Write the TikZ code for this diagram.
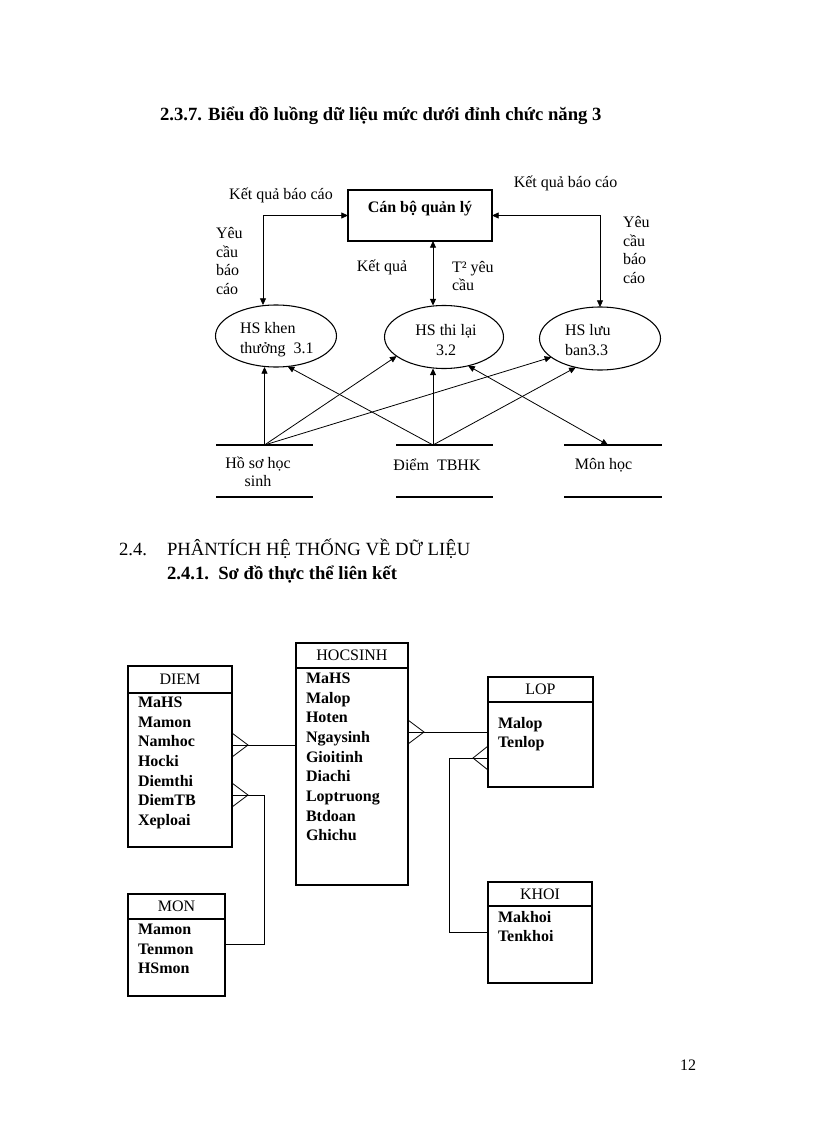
\documentclass[tikz,border=0pt]{standalone}
\usepackage{fontspec}
\setmainfont{Liberation Serif}
\usetikzlibrary{arrows.meta,shapes.geometric,positioning,calc}

\begin{document}
\begin{tikzpicture}[
  x=0.75pt,
  y=-0.75pt,
  every node/.style={font=\fontsize{12}{14}\selectfont, inner sep=0pt, outer sep=0pt},
  heading/.style={font=\fontsize{14}{17}\selectfont\bfseries, anchor=base west},
  note/.style={align=left, font=\fontsize{12}{14.2}\selectfont},
  procbox/.style={draw, line width=0.8pt, minimum width=108pt, minimum height=38.25pt,
                  font=\fontsize{12}{14}\selectfont\bfseries, text height=9pt, text depth=14pt},
  process/.style={ellipse, draw, line width=0.8pt, minimum width=90.75pt, minimum height=46.5pt},
  proctext/.style={font=\fontsize{12}{14.6}\selectfont},
  store/.style={minimum width=72.75pt, minimum height=39pt},
  storeline/.style={line width=1.1pt},
  flow/.style={line width=0.6pt, -{Triangle[length=5pt,width=4.5pt]}},
  dflow/.style={line width=0.6pt,
                {Triangle[length=5pt,width=4.5pt]}-{Triangle[length=5pt,width=4.5pt]}},
  ehead/.style={draw, line width=0.8pt, minimum height=18.75pt},
  ebody/.style={draw, line width=0.8pt},
  fields/.style={font=\fontsize{12}{14.75}\selectfont\bfseries, align=left, anchor=north west},
  erline/.style={line width=0.6pt}
]
  % ---- page frame ----
  \useasboundingbox (0,0) rectangle (816,1123);

  % ---- headings ----
  \node[heading] (t237) at (160,121) {2.3.7. Biểu đồ luồng dữ liệu mức dưới đỉnh chức năng 3};

  % ---- external entity and processes ----
  \node[procbox] (cbql) at (420,215.5) {Cán bộ quản lý};
  \node[process] (e1) at (276,336) {};
  \node[process, minimum width=89.25pt, minimum height=47.25pt] (e2) at (444,337) {};
  \node[process, minimum height=47.25pt] (e3) at (600,338.5) {};
  \node[proctext, align=left, anchor=west] (e1t) at (240,339.5) {HS khen\\thưởng~ 3.1};
  \node[proctext, align=center] (e2t) at (446,340) {HS thi lại\\3.2};
  \node[proctext, align=left, anchor=west] (e3t) at (565,340) {HS lưu\\ban3.3};

  % ---- data stores (open rectangles) ----
  \node[store] (s1) at (264.5,471) {};
  \node[store] (s2) at (444.5,471) {};
  \node[store, minimum width=73.5pt] (s3) at (613,471) {};
  \foreach \s in {s1,s2,s3} {
    \draw[storeline] (\s.north west) -- (\s.north east);
    \draw[storeline] (\s.south west) -- (\s.south east);
  }
  \node[align=center, font=\fontsize{12}{13.5}\selectfont] (s1t) at (258,472) {Hồ sơ học\\sinh};
  \node (s2t) at (437,465) {Điểm~ TBHK};
  \node (s3t) at (603.5,465) {Môn học};

  % ---- flow labels ----
  \node (kqbc1) at (281,195) {Kết quả báo cáo};
  \node (kqbc2) at (565.5,183) {Kết quả báo cáo};
  \node[note, anchor=west] (ycbc1) at (216,261) {Yêu\\cầu\\báo\\cáo};
  \node[note, anchor=west] (ycbc2) at (623,250) {Yêu\\cầu\\báo\\cáo};
  \node (kq) at (382,267) {Kết quả};
  \node[note, anchor=west] (tyc) at (452,276) {T² yêu\\cầu};

  % ---- flows between manager and processes ----
  \coordinate (mid) at ($(cbql.south)+(13,0)$);
  \draw[dflow] (cbql.west) -| ($(e1.north)+(-13,0)$);
  \draw[dflow] (mid) -- (mid |- e2.north);
  \draw[dflow] (cbql.east) -| (e3.north);

  % ---- flows from the stores ----
  \coordinate (s2top) at ($(s2.north)+(-11.5,0)$);
  \coordinate (s3top) at ($(s3.north)+(-5,0)$);
  \draw[flow] (s1.north) -- (s1.north |- e1.south);
  \draw[flow] (s1.north) -- (e2.202);
  \draw[flow] (s1.north) -- (e3.201);
  \draw[flow] (s2top) -- (s2top |- e2.south);
  \draw[flow] (s2top) -- (e1.291);
  \draw[flow] (s2top) -- (e3.230);
  \draw[dflow] (e2.310) -- (s3top);

  % ---- section 2.4 ----
  \node[heading, font=\fontsize{14}{17}\selectfont] (t24n) at (119,555) {2.4.};
  \node[heading, font=\fontsize{14}{17}\selectfont] (t24) at (167,555) {PHÂNTÍCH HỆ THỐNG VỀ DỮ LIỆU};
  \node[heading] (t241) at (167,579) {2.4.1.\ \ Sơ đồ thực thể liên kết};

  % ---- entities ----
  \node[ehead, minimum width=78pt, minimum height=20.25pt] (diemh) at (180,679.5) {DIEM};
  \node[ebody, minimum width=78pt, minimum height=115.5pt, below=0pt of diemh] (diem) {};
  \node[fields] (diemf) at ($(diem.north west)+(10,4)$)
    {MaHS\\Mamon\\Namhoc\\Hocki\\Diemthi\\DiemTB\\Xeploai};

  \node[ehead, minimum width=84pt] (hsh) at (352,655.5) {HOCSINH};
  \node[ebody, minimum width=84pt, minimum height=162.75pt, below=0pt of hsh] (hs) {};
  \node[fields] (hsf) at ($(hs.north west)+(10,5)$)
    {MaHS\\Malop\\Hoten\\Ngaysinh\\Gioitinh\\Diachi\\Loptruong\\Btdoan\\Ghichu};

  \node[ehead, minimum width=78.75pt] (loph) at (540.5,689.5) {LOP};
  \node[ebody, minimum width=78.75pt, minimum height=63.75pt, below=0pt of loph] (lop) {};
  \node[fields] (lopf) at ($(lop.north west)+(10,15)$) {Malop\\Tenlop};

  \node[ehead, minimum width=72.75pt] (monh) at (176.5,906.5) {MON};
  \node[ebody, minimum width=72.75pt, minimum height=57.75pt, below=0pt of monh] (mon) {};
  \node[fields] (monf) at ($(mon.north west)+(10,5)$) {Mamon\\Tenmon\\HSmon};

  \node[ehead, minimum width=78pt, minimum height=18pt] (khoih) at (540,894) {KHOI};
  \node[ebody, minimum width=78pt, minimum height=57.75pt, below=0pt of khoih] (khoi) {};
  \node[fields] (khoif) at ($(khoi.north west)+(10,5)$) {Makhoi\\Tenkhoi};

  % ---- relationships (crow's foot on the many side) ----
  \coordinate (cf1) at (248,745);
  \draw[erline] (diem.east |- cf1) -- (hs.west |- cf1);
  \draw[erline] ($(cf1)+(-16,-12)$) -- (cf1) -- ($(cf1)+(-16,12)$);

  \coordinate (cf2) at (248,795);
  \coordinate (cf2b) at (264,944);
  \draw[erline] (diem.east |- cf2) -| (cf2b) -- (mon.east |- cf2b);
  \draw[erline] ($(cf2)+(-16,-12)$) -- (cf2) -- ($(cf2)+(-16,12)$);

  \coordinate (cf3) at (424,732);
  \draw[erline] (hs.east |- cf3) -- (lop.west |- cf3);
  \draw[erline] ($(cf3)+(-16,-12)$) -- (cf3) -- ($(cf3)+(-16,12)$);

  \coordinate (cf4) at (473,758);
  \coordinate (cf4b) at (449,932);
  \draw[erline] (lop.west |- cf4) -| (cf4b) -- (khoi.west |- cf4b);
  \draw[erline] ($(cf4)+(15,-12)$) -- (cf4) -- ($(cf4)+(15,12)$);

  % ---- page number ----
  \node[anchor=base west] (pnum) at (680,1070) {12};
\end{tikzpicture}
\end{document}
